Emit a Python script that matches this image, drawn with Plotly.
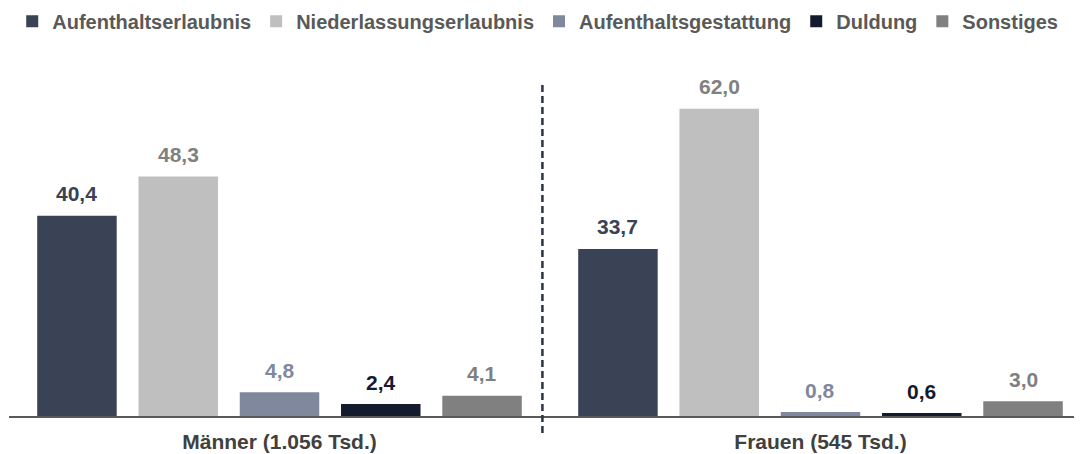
import plotly.graph_objects as go

categories = ["Männer (1.056 Tsd.)", "Frauen (545 Tsd.)"]
series_names = ["Aufenthaltserlaubnis", "Niederlassungserlaubnis", "Aufenthaltsgestattung", "Duldung", "Sonstiges"]
aufenthaltserlaubnis = [40.4, 33.7]
niederlassungserlaubnis = [48.3, 62.0]
aufenthaltsgestattung = [4.8, 0.8]
duldung = [2.4, 0.6]
sonstiges = [4.1, 3.0]
values = [aufenthaltserlaubnis, niederlassungserlaubnis, aufenthaltsgestattung, duldung, sonstiges]

bar_colors = ["#3a4256", "#bfbfbf", "#7f889c", "#151b2f", "#808080"]
label_colors = ["#3a4256", "#808080", "#7f889c", "#151b2f", "#808080"]

FONT = "Arial, Liberation Sans, sans-serif"
BARGAP = 0.064
GROUPGAP = 0.215

fig = go.Figure()
for name, vals, col in zip(series_names, values, bar_colors):
    fig.add_trace(go.Bar(name=name, x=categories, y=vals, marker=dict(color=col, line=dict(width=0))))

n = len(series_names)
slot = (1 - BARGAP) / n
for i, (vals, lc) in enumerate(zip(values, label_colors)):
    for j, v in enumerate(vals):
        xpos = j - (1 - BARGAP) / 2 + slot * (i + 0.5)
        fig.add_annotation(x=xpos, y=v, xref="x", yref="y", text=f"<b>{v:.1f}</b>".replace(".", ","),
                           showarrow=False, yanchor="middle", yshift=22,
                           font=dict(family=FONT, size=21, color=lc))

fig.add_shape(type="line", xref="x", yref="paper", x0=0.486, x1=0.486, y0=-0.049, y1=0.965,
              line=dict(color="#2b3447", width=2.5, dash="7px,4px"))

fig.update_layout(
    width=1074, height=446,
    margin=dict(l=1, r=0, t=62, b=38, autoexpand=False),
    paper_bgcolor="white", plot_bgcolor="white",
    barmode="group", bargap=BARGAP, bargroupgap=GROUPGAP,
    showlegend=True,
    legend=dict(orientation="h", x=0.003, xanchor="left", y=1.197, yanchor="top",
                font=dict(family=FONT, size=20, color="#595959", weight="bold"),
                itemwidth=30, traceorder="normal"),
    xaxis=dict(range=[-0.5, 1.4834], showline=True, linecolor="#595959", linewidth=2,
               tickfont=dict(family=FONT, size=21, color="#404040", weight="bold"),
               ticks="", showgrid=False, ticklabelstandoff=6),
    yaxis=dict(range=[0, 69.8], visible=False, showgrid=False),
)

fig.write_html("out.html")
